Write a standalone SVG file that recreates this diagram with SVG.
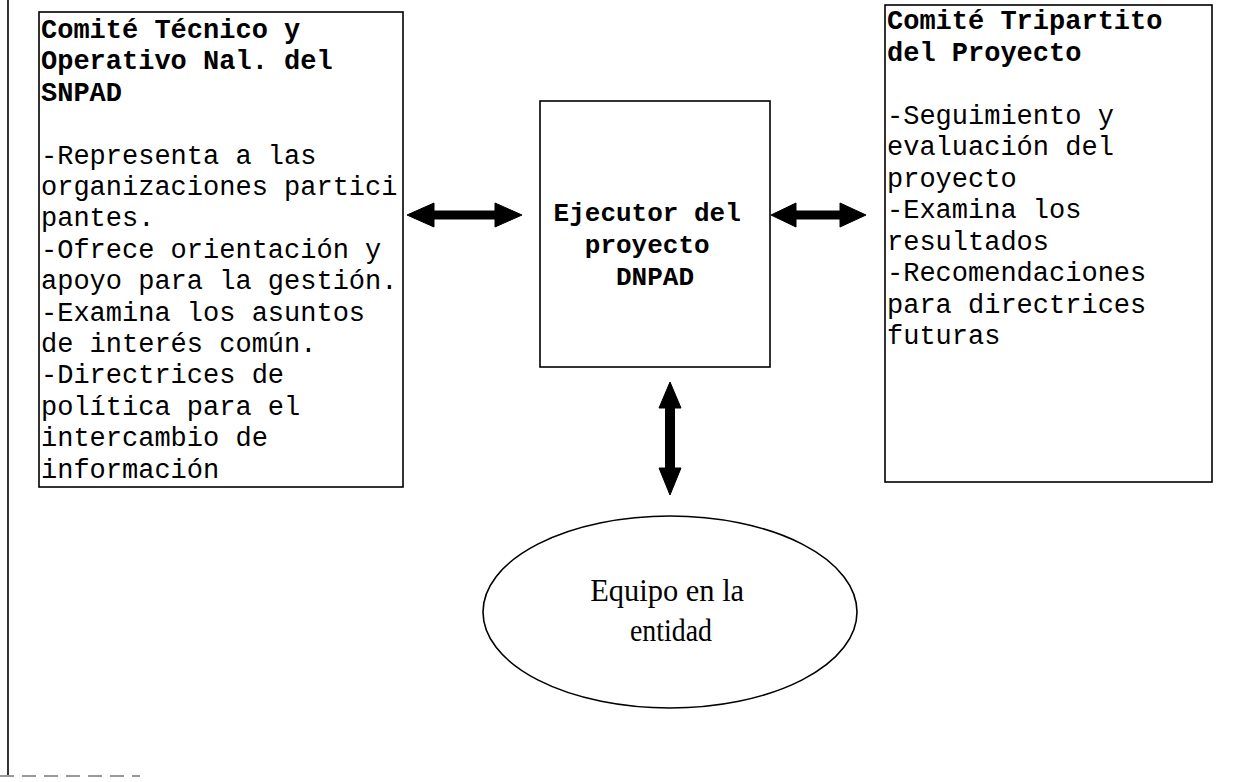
<svg xmlns="http://www.w3.org/2000/svg" width="1239" height="782" viewBox="0 0 1239 782">
<style>
.box{fill:#fff;stroke:#000;stroke-width:1.6}
.mono{font-family:"Liberation Mono","Courier New",monospace;font-size:27px;fill:#000}
.b{font-weight:bold}
.serif{font-family:"Liberation Serif","Times New Roman",serif;font-size:31px;fill:#000;text-anchor:middle}
.arrow{fill:#000;stroke:#000;stroke-width:1}
</style>
<rect width="1239" height="782" fill="#fff"/>
<g id="frame">
<line x1="8" y1="0" x2="8" y2="776" stroke="#000" stroke-width="1.6"/>
<line x1="0" y1="776" x2="140" y2="776" stroke="#999" stroke-width="2" stroke-dasharray="14,8"/>
</g>
<g id="comite-tecnico">
<rect class="box" x="39" y="12" width="364" height="475"/>
<text class="mono" x="41">
<tspan class="b" x="41" y="38">Comité Técnico y</tspan>
<tspan class="b" x="41" y="69.4">Operativo Nal. del</tspan>
<tspan class="b" x="41" y="100.8">SNPAD</tspan>
<tspan x="41" y="163.6">-Representa a las</tspan>
<tspan x="41" y="195">organizaciones partici</tspan>
<tspan x="41" y="226.4">pantes.</tspan>
<tspan x="41" y="257.8">-Ofrece orientación y</tspan>
<tspan x="41" y="289.2">apoyo para la gestión.</tspan>
<tspan x="41" y="320.6">-Examina los asuntos</tspan>
<tspan x="41" y="352">de interés común.</tspan>
<tspan x="41" y="383.4">-Directrices de</tspan>
<tspan x="41" y="414.8">política para el</tspan>
<tspan x="41" y="446.2">intercambio de</tspan>
<tspan x="41" y="477.6">información</tspan>
</text>
</g>
<g id="ejecutor">
<rect class="box" x="540" y="101" width="230" height="266"/>
<text class="mono b" style="font-size:26px" text-anchor="middle">
<tspan x="655" y="221">Ejecutor del</tspan>
<tspan x="655" y="253">proyecto</tspan>
<tspan x="655" y="285">DNPAD</tspan>
</text>
</g>
<g id="comite-tripartito">
<rect class="box" x="885" y="5" width="327" height="477"/>
<text class="mono">
<tspan class="b" x="887" y="29">Comité Tripartito</tspan>
<tspan class="b" x="887" y="60.5">del Proyecto</tspan>
<tspan x="887" y="123.5">-Seguimiento y</tspan>
<tspan x="887" y="155">evaluación del</tspan>
<tspan x="887" y="186.5">proyecto</tspan>
<tspan x="887" y="218">-Examina los</tspan>
<tspan x="887" y="249.5">resultados</tspan>
<tspan x="887" y="281">-Recomendaciones</tspan>
<tspan x="887" y="312.5">para directrices</tspan>
<tspan x="887" y="344">futuras</tspan>
</text>
</g>
<g id="equipo">
<ellipse class="box" cx="670" cy="612" rx="187" ry="96"/>
<text class="serif">
<tspan x="671" y="601" textLength="154" lengthAdjust="spacingAndGlyphs">Equipo en la</tspan>
<tspan x="671" y="641" textLength="82" lengthAdjust="spacingAndGlyphs">entidad</tspan>
</text>
</g>
<g id="connectors">
<polygon class="arrow" points="407,215 434,203 434,211 495,211 495,203 522,215 495,227 495,219 434,219 434,227"/>
<polygon class="arrow" points="771,215 796,203 796,211 840,211 840,203 866,215 840,227 840,219 796,219 796,227"/>
<polygon class="arrow" points="670,382 681,408 674.5,408 674.5,468 681,468 670,495 659,468 665.5,468 665.5,408 659,408"/>
</g>
</svg>
